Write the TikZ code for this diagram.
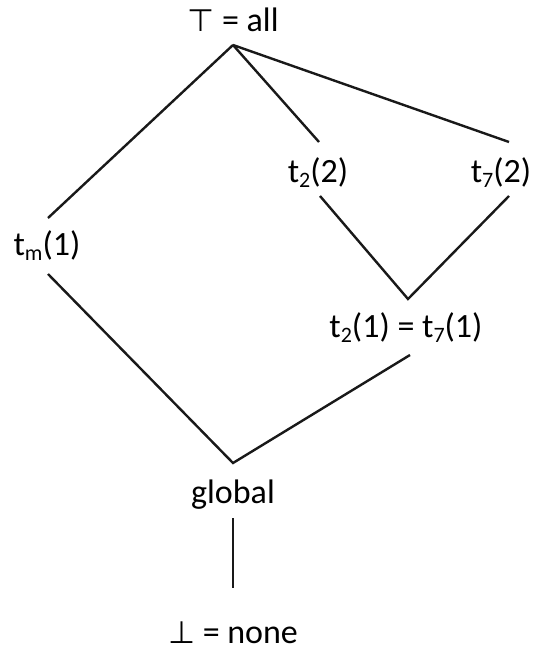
\documentclass[tikz,border=0pt]{standalone}
\usepackage{fontspec}
\setmainfont{Carlito}
\newfontfamily\symfont{DejaVu Sans}
\newcommand{\sbs}[1]{\raisebox{-0.35ex}{\fontsize{22}{22}\selectfont #1}}
\begin{document}
\begin{tikzpicture}[x=1pt,y=-1pt,
  lbl/.style={anchor=base,inner sep=0pt,font=\fontsize{34}{38}\selectfont},
  edge/.style={line width=2.4pt,black!90}]
\useasboundingbox (0,0) rectangle (539,661);
\node[lbl] (top) at (233,32) {{\symfont\fontsize{31}{36}\selectfont ⊤} = all};
\node[lbl] (tm) at (47,255) {t\sbs{m}(1)};
\node[lbl] (t22) at (318,182) {t\sbs{2}(2)};
\node[lbl] (t72) at (501,182) {t\sbs{7}(2)};
\node[lbl] (mid) at (406,337) {t\sbs{2}(1) = t\sbs{7}(1)};
\node[lbl] (glob) at (233,503) {global};
\node[lbl] (bot) at (233,643) {{\symfont\fontsize{31}{36}\selectfont ⊥} = none};
\coordinate (topS) at (233,45);
\coordinate (tmN) at (48,218);
\coordinate (tmS) at (48,274);
\coordinate (t22N) at (319,142);
\coordinate (t22S) at (320,196);
\coordinate (t72N) at (509,142);
\coordinate (t72S) at (509,196);
\coordinate (midN) at (408,299);
\coordinate (midS) at (410,355);
\coordinate (globN) at (233,463);
\coordinate (globS) at (233,518);
\coordinate (botN) at (233,588);
\draw[edge] (topS) -- (tmN);
\draw[edge] (topS) -- (t22N);
\draw[edge] (topS) -- (t72N);
\draw[edge] (t22S) -- (midN) -- (t72S);
\draw[edge] (tmS) -- (globN) -- (midS);
\draw[edge] (globS) -- (botN);
\end{tikzpicture}
\end{document}
